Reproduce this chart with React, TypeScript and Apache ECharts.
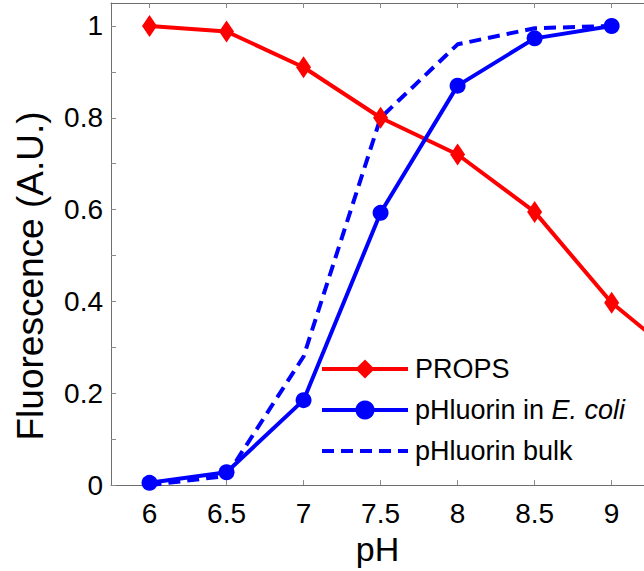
import React, { useEffect, useRef } from "react";
import * as echarts from "echarts";

const propsPh = [6, 6.5, 7, 7.5, 8, 8.5, 9, 9.5];
const propsValues = [1.0, 0.988, 0.91, 0.8, 0.72, 0.595, 0.397, 0.26];
const ecoliPh = [6, 6.5, 7, 7.5, 8, 8.5, 9];
const ecoliValues = [0.005, 0.028, 0.185, 0.593, 0.87, 0.973, 1.0];
const bulkPh = [6, 6.5, 7, 7.5, 8, 8.5, 9];
const bulkValues = [0.0, 0.02, 0.28, 0.8, 0.96, 0.995, 1.0];
const xTickValues = [6, 6.5, 7, 7.5, 8, 8.5, 9];
const yLabelValues = [0, 0.2, 0.4, 0.6, 0.8, 1];
const yTickValues = [0, 0.1, 0.2, 0.3, 0.4, 0.5, 0.6, 0.7, 0.8, 0.9, 1.0];

const FONT = "'Liberation Sans', Arial, Helvetica, sans-serif";
const AXIS_COLOR = "#6e6e6e";
const TICK_COLOR = "#8a8a8a";

export default function App() {
  const ref = useRef<HTMLDivElement>(null);
  useEffect(() => {
    if (!ref.current) return;
    const chart = echarts.init(ref.current, null, { renderer: "svg" });
    const pair = (xs: number[], ys: number[]) => xs.map((x, i) => [x, ys[i]]);
    const xCommon = {
      type: "value",
      min: 5.75,
      max: 9.21,
      splitLine: { show: false },
      axisLine: { show: true, onZero: false, lineStyle: { color: AXIS_COLOR, width: 1 } },
      axisTick: { show: true, inside: true, length: 5, customValues: xTickValues, lineStyle: { color: TICK_COLOR } },
    };
    chart.setOption({
      animation: false,
      backgroundColor: "#ffffff",
      grid: { left: 111, top: 3, width: 534, height: 493, containLabel: false },
      xAxis: [
        {
          ...xCommon,
          position: "bottom",
          axisLabel: {
            customValues: xTickValues,
            fontSize: 28,
            fontFamily: FONT,
            color: "#000",
            margin: 14,
            formatter: (v: number) => String(v),
          },
          name: "pH",
          nameLocation: "middle",
          nameGap: 41,
          nameTextStyle: { fontSize: 34, fontFamily: FONT, color: "#000" },
        },
        {
          ...xCommon,
          position: "top",
          axisLabel: { show: false },
        },
      ],
      yAxis: [
        {
          type: "value",
          min: 0,
          max: 1.05,
          splitLine: { show: false },
          axisLine: { show: true, onZero: false, lineStyle: { color: AXIS_COLOR, width: 1 } },
          axisTick: { show: true, inside: true, length: 5, customValues: yTickValues, lineStyle: { color: TICK_COLOR } },
          axisLabel: {
            customValues: yLabelValues,
            fontSize: 28,
            fontFamily: FONT,
            color: "#000",
            margin: 8,
            formatter: (v: number) => String(v),
          },
        },
      ],
      legend: {
        data: ["PROPS", "pHluorin in E. coli", "pHluorin bulk"],
        orient: "vertical",
        left: 320,
        top: 354,
        padding: 0,
        itemWidth: 86,
        itemHeight: 24,
        itemGap: 11,
        lineStyle: { width: 4 },
        formatter: (name: string) =>
          name === "pHluorin in E. coli" ? "pHluorin in {it|E. coli}" : name,
        textStyle: {
          fontSize: 27,
          lineHeight: 30,
          fontFamily: FONT,
          color: "#000",
          padding: [0, 0, 0, 2],
          rich: {
            it: { fontStyle: "italic", fontSize: 27, lineHeight: 30, fontFamily: FONT, color: "#000" },
          },
        },
      },
      graphic: [
        {
          type: "text",
          x: 30,
          y: 276,
          rotation: Math.PI / 2,
          style: {
            text: "Fluorescence (A.U.)",
            fontSize: 37,
            fontFamily: FONT,
            fill: "#000",
            align: "center",
            verticalAlign: "middle",
          },
        },
      ],
      series: [
        {
          name: "PROPS",
          type: "line",
          data: pair(propsPh, propsValues),
          color: "#ff0000",
          symbol: "diamond",
          symbolSize: [15, 22],
          lineStyle: { width: 4, color: "#ff0000" },
          itemStyle: { color: "#ff0000" },
          clip: true,
        },
        {
          name: "pHluorin in E. coli",
          type: "line",
          data: pair(ecoliPh, ecoliValues),
          color: "#0000ff",
          symbol: "circle",
          symbolSize: 16,
          lineStyle: { width: 4, color: "#0000ff" },
          itemStyle: { color: "#0000ff" },
          clip: true,
        },
        {
          name: "pHluorin bulk",
          type: "line",
          data: pair(bulkPh, bulkValues),
          color: "#0000ff",
          symbol: "circle",
          showSymbol: false,
          lineStyle: { width: 4, color: "#0000ff", type: [12, 7] },
          itemStyle: { color: "rgba(0,0,0,0)", borderWidth: 0 },
          clip: true,
        },
      ],
    });
    return () => chart.dispose();
  }, []);
  return (
    <div
      ref={ref}
      style={{ position: "fixed", left: 0, top: 0, width: 644, height: 571, background: "#fff" }}
    />
  );
}
